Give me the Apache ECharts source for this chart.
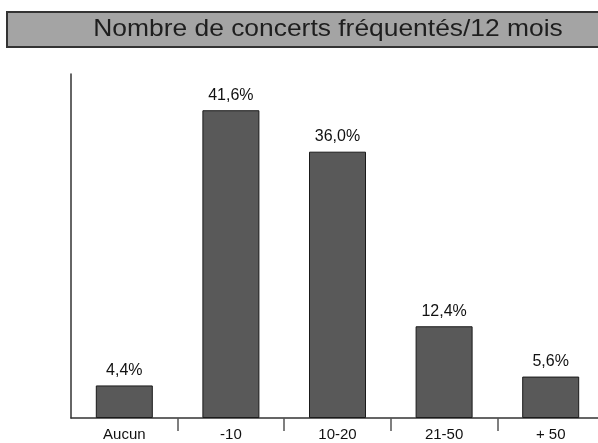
<!DOCTYPE html>
<html>
<head>
<meta charset="utf-8">
<script src="https://cdn.jsdelivr.net/npm/echarts@6/dist/echarts.min.js"></script>
<style>
  html, body { margin: 0; padding: 0; background: #fff; }
  #chart { width: 598px; height: 443px; }
</style>
</head>
<body>
<div id="chart"></div>
<script>
const chartTitle = 'Nombre de concerts fréquentés/12 mois';
const categories = ['Aucun', '-10', '10-20', '21-50', '+ 50'];
const shares = [4.4, 41.6, 36.0, 12.4, 5.6];

const myChart = echarts.init(document.getElementById('chart'));
const option = {
  animation: false,
  textStyle: {fontFamily: 'Liberation Sans, Arial, sans-serif'},
  grid: {left: 71, right: -6, top: 74, bottom: 25, outerBoundsMode: 'none'},
  graphic: [
    {
      type: 'rect',
      shape: {x: 7, y: 12, width: 600, height: 35},
      style: {fill: '#a4a4a4', stroke: '#333', lineWidth: 2}
    },
    {
      type: 'text',
      x: 328, y: 29,
      scaleX: 1.1,
      style: {
        text: chartTitle,
        fill: '#1e1e1e',
        font: '24px "Liberation Sans", Arial, sans-serif',
        textAlign: 'center',
        textVerticalAlign: 'middle'
      }
    }
  ],
  xAxis: {
    type: 'category',
    data: categories,
    axisLine: {lineStyle: {color: '#333', width: 1.5}},
    axisTick: {
      show: true,
      inside: false,
      length: 13,
      interval: (i) => i > 0,
      lineStyle: {color: '#555', width: 1.5}
    },
    axisLabel: {color: '#111', fontSize: 15, margin: 9}
  },
  yAxis: {
    type: 'value',
    min: 0,
    max: 46.5,
    axisLine: {show: true, lineStyle: {color: '#333', width: 1.5}},
    axisTick: {show: false},
    axisLabel: {show: false},
    splitLine: {show: false}
  },
  series: [
    {
      type: 'bar',
      data: shares,
      barWidth: 57,
      itemStyle: {color: '#595959', borderColor: '#1a1a1a', borderWidth: 1},
      label: {
        show: true,
        position: 'top',
        distance: 7,
        color: '#111',
        fontSize: 16,
        formatter: (p) => p.value.toFixed(1).replace('.', ',') + '%'
      }
    }
  ]
};
myChart.setOption(option);
</script>
</body>
</html>
